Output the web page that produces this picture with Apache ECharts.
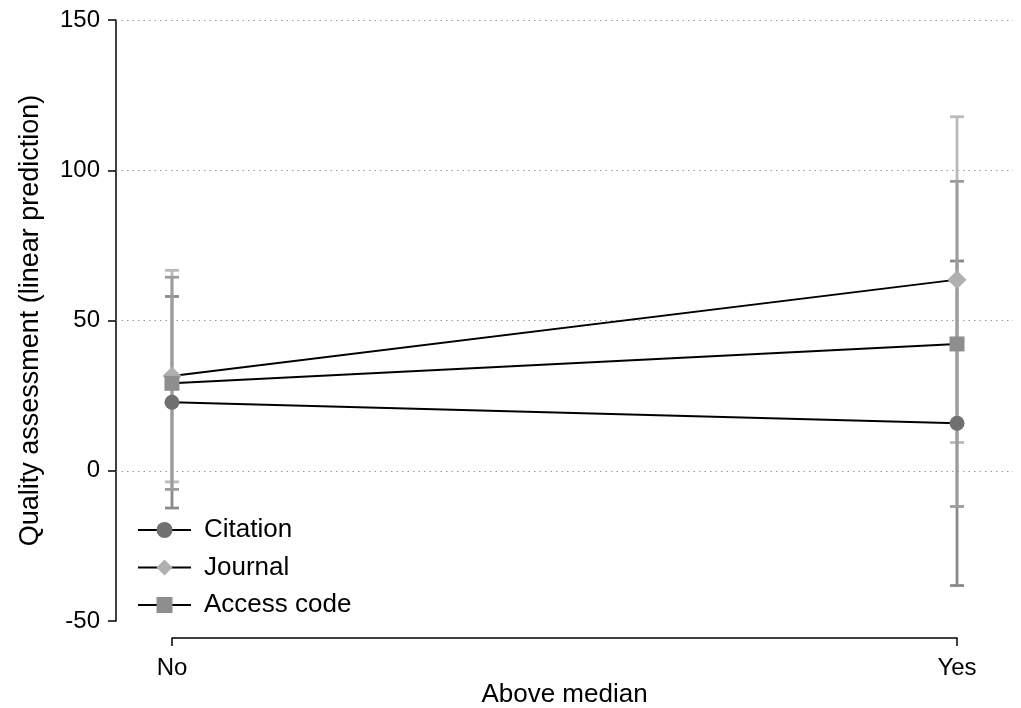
<!DOCTYPE html>
<html>
<head>
<meta charset="utf-8">
<script src="https://cdn.jsdelivr.net/npm/echarts@6/dist/echarts.min.js"></script>
<style>html,body{margin:0;padding:0;background:#fff}#c{width:1021px;height:708px}</style>
</head>
<body>
<div id="c"></div>
<script>
const categories = ['No', 'Yes'];
const seriesNames = ['Citation', 'Journal', 'Access code'];
const citation = [22.8, 15.8];
const citationLow = [-12.4, -38.2];
const citationHigh = [58.0, 69.8];
const journal = [31.5, 63.6];
const journalLow = [-3.7, 9.4];
const journalHigh = [66.7, 117.8];
const access = [29.1, 42.2];
const accessLow = [-6.2, -11.9];
const accessHigh = [64.4, 96.3];
const yTicks = [-50, 0, 50, 100, 150];
const gridValues = [0, 50, 100, 150];

const FONT = '"Liberation Sans", Arial, sans-serif';
const markerColors = ['#707070', '#b0b0b0', '#8e8e8e'];
const ciColors = ['#8a8a8a', '#bababa', '#9c9c9c'];
const symbols = ['circle', 'diamond', 'rect'];
const symbolSizes = [15, 19, 15];
const means = [citation, journal, access];
const lows = [citationLow, journalLow, accessLow];
const highs = [citationHigh, journalHigh, accessHigh];

const chart = echarts.init(document.getElementById('c'), null, {renderer: 'canvas'});

const series = [];
for (let s = 0; s < 3; s++) {
  series.push({
    type: 'custom',
    name: seriesNames[s] + ' CI',
    xAxisIndex: 0, yAxisIndex: 0,
    z: 2 + s * 0.1,
    silent: true,
    data: categories.map((c, i) => [i, lows[s][i], highs[s][i]]),
    renderItem: function (params, api) {
      const x = api.value(0);
      const lo = api.coord([x, api.value(1)]);
      const hi = api.coord([x, api.value(2)]);
      const hw = 7;
      const st = {stroke: ciColors[s], lineWidth: 2.8, fill: null};
      return {
        type: 'group',
        children: [
          {type: 'line', shape: {x1: lo[0], y1: lo[1], x2: hi[0], y2: hi[1]}, style: st},
          {type: 'line', shape: {x1: lo[0] - hw, y1: lo[1], x2: lo[0] + hw, y2: lo[1]}, style: st},
          {type: 'line', shape: {x1: hi[0] - hw, y1: hi[1], x2: hi[0] + hw, y2: hi[1]}, style: st}
        ]
      };
    }
  });
}
for (let s = 0; s < 3; s++) {
  const obj = {
    type: 'line',
    name: seriesNames[s],
    xAxisIndex: 0, yAxisIndex: 0,
    z: 5,
    data: categories.map((c, i) => [i, means[s][i]]),
    symbol: symbols[s],
    symbolSize: symbolSizes[s],
    showAllSymbol: true,
    lineStyle: {color: '#000', width: 2},
    itemStyle: {color: markerColors[s], borderWidth: 0},
    emphasis: {disabled: true},
    animation: false
  };
  if (s === 0) {
    obj.markLine = {
      silent: true,
      symbol: 'none',
      label: {show: false},
      lineStyle: {color: '#9a9a9a', type: [1.5, 4], width: 1},
      data: gridValues.map(v => ({yAxis: v})),
      z: 1
    };
  }
  series.push(obj);
}

chart.setOption({
  animation: false,
  backgroundColor: '#fff',
  textStyle: {fontFamily: FONT},
  grid: [
    {left: 116, right: 8, top: 20, bottom: 87, containLabel: false},
    {left: 172, right: 64, top: 638, height: 0, containLabel: false}
  ],
  xAxis: [
    {type: 'value', gridIndex: 0, min: -0.0713, max: 1.0713, show: false},
    {
      type: 'category', gridIndex: 1, data: categories, boundaryGap: false,
      axisLine: {lineStyle: {color: '#000', width: 1.5}},
      axisTick: {show: true, length: 8, lineStyle: {color: '#000', width: 1.5}},
      axisLabel: {color: '#000', fontSize: 24, fontFamily: FONT, margin: 18},
      name: 'Above median', nameLocation: 'middle', nameGap: 44,
      nameTextStyle: {color: '#000', fontSize: 26, fontFamily: FONT},
      splitLine: {show: false}
    }
  ],
  yAxis: [
    {
      type: 'value', gridIndex: 0, min: yTicks[0], max: yTicks[yTicks.length - 1], interval: 50,
      axisLine: {show: true, onZero: false, lineStyle: {color: '#000', width: 1.5}},
      axisTick: {show: true, length: 8, lineStyle: {color: '#000', width: 1.5}},
      axisLabel: {color: '#000', fontSize: 24, fontFamily: FONT, margin: 16},
      splitLine: {show: false},
      name: 'Quality assessment (linear prediction)', nameLocation: 'middle', nameGap: 72,
      nameTextStyle: {color: '#000', fontSize: 27, fontFamily: FONT}
    },
    {type: 'value', gridIndex: 1, show: false}
  ],
  legend: {
    data: seriesNames,
    orient: 'vertical',
    left: 137,
    top: 515,
    padding: 0,
    itemWidth: 53,
    itemHeight: 20,
    itemGap: 7.5,
    textStyle: {color: '#000', fontSize: 26, fontFamily: FONT, lineHeight: 30, padding: [0, 0, 0, 8]},
    selectedMode: false
  },
  series: series
});
</script>
</body>
</html>
